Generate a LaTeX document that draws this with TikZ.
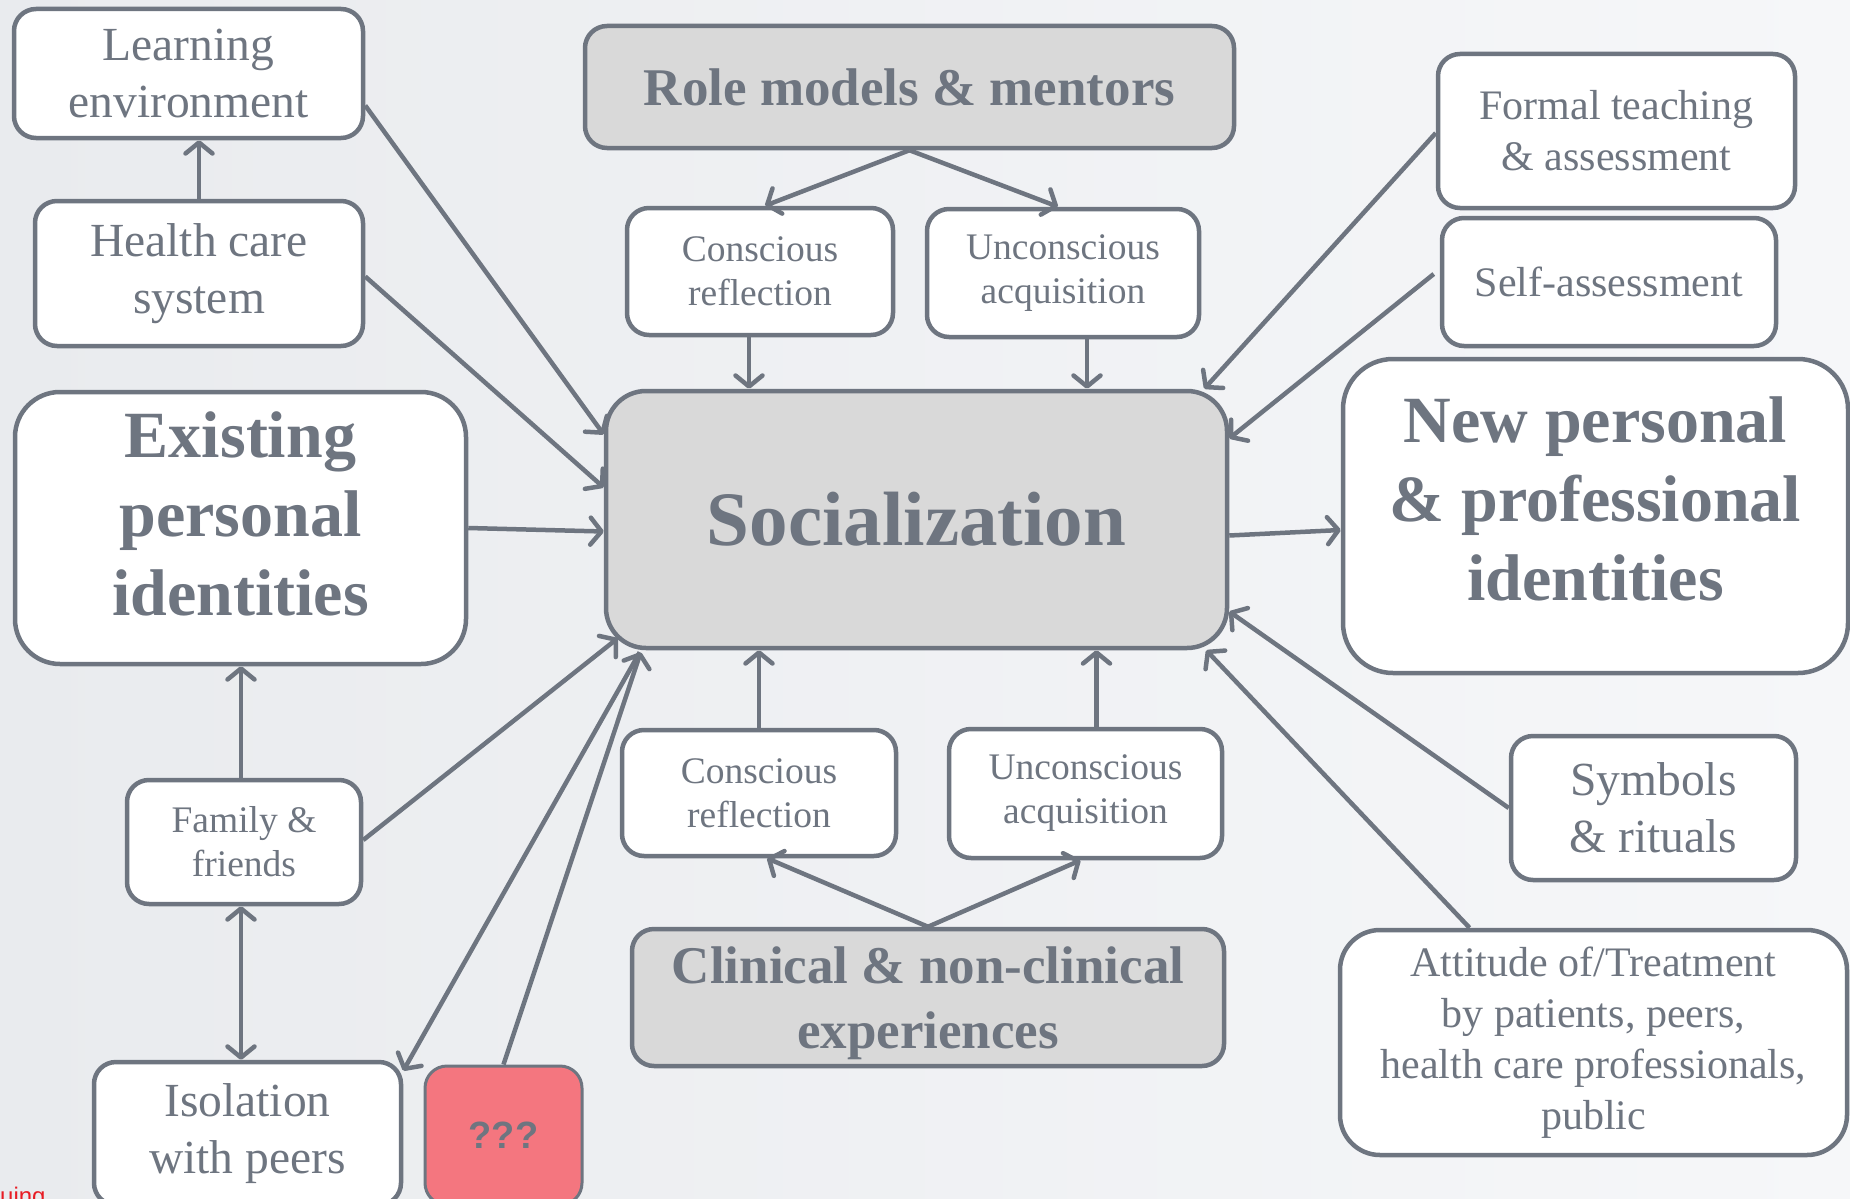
\documentclass[tikz,border=0pt]{standalone}
\usepackage{fontspec}
\setmainfont{Liberation Serif}
\newfontfamily\timesfont{Liberation Serif}
\newfontfamily\qfont{Liberation Sans}
\usetikzlibrary{arrows.meta,calc,positioning}

\definecolor{slate}{RGB}{110,117,128}
\definecolor{boxgray}{RGB}{217,217,217}
\definecolor{qred}{RGB}{244,118,127}
\definecolor{bgleft}{RGB}{233,235,238}
\definecolor{bgright}{RGB}{246,247,249}
\definecolor{cutred}{RGB}{232,28,36}

\begin{document}
\begin{tikzpicture}[x=1pt, y=-1pt,
    card/.style={draw=slate, line width=4.5pt, fill=white, rounded corners=22pt,
                 align=center, text=slate, inner sep=0pt},
    greycard/.style={card, fill=boxgray},
    bigcard/.style={card, rounded corners=45pt},
    caption/.style={align=center, text=slate, inner sep=0pt},
    link/.style={draw=slate, line width=4.5pt,
                 -{Straight Barb[length=11pt,width=27pt,round]}},
    linkboth/.style={draw=slate, line width=4.5pt,
                 {Straight Barb[length=11pt,width=27pt,round]}-{Straight Barb[length=11pt,width=27pt,round]}},
    fsoc/.style={font=\timesfont\fontsize{77}{92}\selectfont\bfseries},
    fbig/.style={font=\timesfont\fontsize{66}{79}\selectfont\bfseries},
    fhead/.style={font=\timesfont\fontsize{53}{65}\selectfont\bfseries},
    fmid/.style={font=\timesfont\fontsize{47.5}{57}\selectfont},
    fsmall/.style={font=\timesfont\fontsize{42}{51}\selectfont},
    ftiny/.style={font=\timesfont\fontsize{37.5}{44}\selectfont}]
  % Page and background
  \useasboundingbox (0,0) rectangle (1850,1199);
  \shade[left color=bgleft, right color=bgright] (0,0) rectangle (1850,1199);

  % Centre
  \node[greycard, fsoc, rounded corners=40pt, minimum width=621pt, minimum height=257pt]
      (soc) at (916.5,519.5) {Socialization};

  % Top row
  \node[greycard, fhead, minimum width=649pt, minimum height=122pt]
      (mentors) at (909.5,87) {Role models \& mentors};
  \node[card, ftiny, minimum width=266pt, minimum height=127pt]
      (consTop) at (760,271.5) {Conscious\\reflection};
  \node[card, ftiny, minimum width=272pt, minimum height=128pt]
      (uncoTop) at (1063,273) {Unconscious\\acquisition};

  % Left side
  \node[card, fmid, minimum width=349pt, minimum height=129pt]
      (learn) at (188.5,73.5) {Learning\\environment};
  \node[card, fmid, minimum width=328pt, minimum height=145pt]
      (health) at (199,273.5) {Health care\\system};
  \node[bigcard, minimum width=451pt, minimum height=272pt]
      (existing) at (240.5,528) {};
  \node[caption, fbig] (existingText) at ([yshift=14pt]existing.center)
      {Existing\\personal\\identities};
  \node[card, ftiny, minimum width=234pt, minimum height=124pt]
      (family) at (244,842) {Family \&\\friends};
  \node[card, fmid, minimum width=307pt, minimum height=143pt]
      (isolation) at (247.5,1133.5) {Isolation\\with peers};
  \node[card, fill=qred, line width=3pt, minimum width=157pt, minimum height=139pt,
        font=\qfont\fontsize{38}{44}\selectfont\bfseries]
      (unknown) at (503.5,1135.5) {???};

  % Bottom row
  \node[card, ftiny, minimum width=274pt, minimum height=126pt]
      (consBot) at (759,793) {Conscious\\reflection};
  \node[card, ftiny, minimum width=273pt, minimum height=129pt]
      (uncoBot) at (1085.5,793.5) {Unconscious\\acquisition};
  \node[greycard, minimum width=592pt, minimum height=137pt]
      (clinical) at (928,997.5) {};
  \node[caption, fhead] (clinicalText) at ([yshift=-6pt]clinical.center)
      {Clinical \& non-clinical\\experiences};

  % Right side
  \node[card, fsmall, minimum width=357pt, minimum height=154pt]
      (formal) at (1616.5,131) {Formal teaching\\\& assessment};
  \node[card, fsmall, minimum width=334pt, minimum height=128pt]
      (selfass) at (1609,282) {Self-assessment};
  \node[bigcard, rounded corners=50pt, minimum width=505pt, minimum height=314pt]
      (newid) at (1595.5,516) {};
  \node[caption, fbig] (newidText) at ([yshift=17pt]newid.center)
      {New personal\\\& professional\\identities};
  \node[card, fmid, minimum width=285pt, minimum height=144pt]
      (symbols) at (1653.5,808) {Symbols\\\& rituals};
  \node[card, fsmall, rounded corners=40pt, minimum width=507pt, minimum height=225pt]
      (attitude) at (1593.5,1042.5)
      {Attitude of/Treatment\\by patients, peers,\\health care professionals,\\public};

  % cut-off caption at the lower edge
  \node[anchor=base west, inner sep=0pt, text=cutred, font=\qfont\fontsize{24}{28}\selectfont]
      (cutoff) at (0,1204) {uing};

  % Arrows on the left
  \draw[link] (health.north) -- (health.north |- learn.south);
  \draw[link] ([yshift=-32pt]learn.east) -- ([yshift=85pt]soc.west);
  \draw[link] ([yshift=-3pt]health.east) -- ([yshift=32pt]soc.west);
  \draw[link] (existing.east) -- ([yshift=-12pt]soc.west);
  \draw[link] ([xshift=-3pt]family.north) -- ([xshift=-3pt]family.north |- existing.south);
  \draw[linkboth] ([xshift=-3pt]family.south) -- ([xshift=-3pt]family.south |- isolation.north);
  \draw[link] ([yshift=2pt]family.east) -- ([xshift=14pt,yshift=12pt]soc.south west);
  \draw[link] ([xshift=36pt,yshift=-2pt]soc.south west) -- ([yshift=-11pt]isolation.north east);
  \draw[link] (unknown.north) -- ([xshift=37pt,yshift=-2pt]soc.south west);

  % Arrows at the top
  \draw[link] (mentors.south) -- ([xshift=5pt]consTop.north);
  \draw[link] (mentors.south) -- ([xshift=-5pt]uncoTop.north);
  \draw[link] ([xshift=-11pt]consTop.south) -- ([xshift=-11pt]consTop.south |- soc.north);
  \draw[link] ([xshift=24pt]uncoTop.south) -- ([xshift=24pt]uncoTop.south |- soc.north);

  % Arrows on the right
  \draw[link] ([yshift=-2pt]formal.west) -- ([xshift=-25pt]soc.north east);
  \draw[link] ([xshift=-6pt,yshift=8pt]selfass.west) -- ([yshift=81pt]soc.east);
  \draw[link] ([yshift=-16pt]soc.east) -- ([yshift=-14pt]newid.west);
  \draw[link] (symbols.west) -- ([yshift=-92pt]soc.east);
  \draw[link] ([xshift=-124pt]attitude.north) -- ([xshift=-23pt]soc.south east);

  % Arrows at the bottom
  \draw[link] (consBot.north) -- (consBot.north |- soc.south);
  \draw[link] ([xshift=11pt]uncoBot.north) -- ([xshift=11pt]uncoBot.north |- soc.south);
  \draw[link] (clinical.north) -- ([xshift=8pt]consBot.south);
  \draw[link] (clinical.north) -- ([xshift=-5pt]uncoBot.south);
\end{tikzpicture}
\end{document}
